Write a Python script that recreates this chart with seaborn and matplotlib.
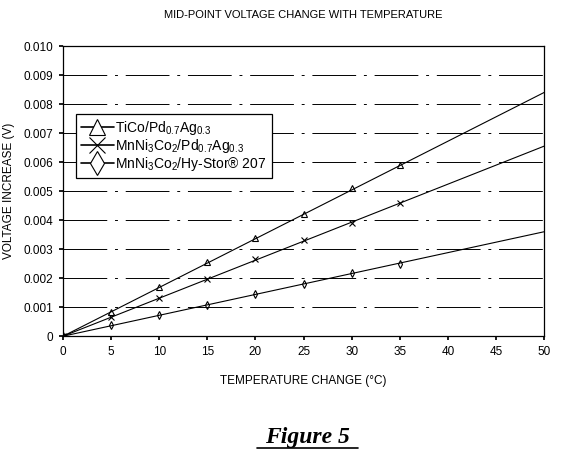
import numpy as np
import matplotlib
matplotlib.use('Agg')
import matplotlib.pyplot as plt
from matplotlib.lines import Line2D
from matplotlib.ticker import FixedLocator, FuncFormatter
import seaborn as sns
import pandas as pd

# marker readings (deg C, V)
temp = [0, 5, 10, 15, 20, 25, 30, 35]
tico_pd = [0, 0.00083, 0.0017, 0.00255, 0.0034, 0.0042, 0.0051, 0.0059]
mnni_pd = [0, 0.00065, 0.0013, 0.00197, 0.00265, 0.0033, 0.0039, 0.0046]
mnni_hy = [0, 0.00038, 0.00072, 0.00107, 0.00145, 0.0018, 0.00217, 0.0025]

# trend lines read at the ends of the plot
fit_temp = [0, 50]
tico_fit = [0, 0.0084]
mnni_pd_fit = [0, 0.00655]
mnni_hy_fit = [0, 0.0036]

labels = ['TiCo/Pd$_{0.7}$Ag$_{0.3}$',
          'MnNi$_3$Co$_2$/Pd$_{0.7}$Ag$_{0.3}$',
          'MnNi$_3$Co$_2$/Hy-Stor\u00ae 207']
markers = ['^', 'x', 'd']

sns.set_theme(style='white')
plt.rcParams['font.family'] = ['Liberation Sans', 'DejaVu Sans']
plt.rcParams['mathtext.fontset'] = 'custom'
plt.rcParams['mathtext.rm'] = 'Liberation Sans'
plt.rcParams['mathtext.it'] = 'Liberation Sans'
for k in ['text.color', 'axes.labelcolor', 'xtick.color', 'ytick.color']:
    plt.rcParams[k] = 'black'

pts = pd.DataFrame({'temp': temp * 3,
                    'v': tico_pd + mnni_pd + mnni_hy,
                    'series': [labels[0]] * 8 + [labels[1]] * 8 + [labels[2]] * 8})
fits = pd.DataFrame({'temp': fit_temp * 3,
                     'v': tico_fit + mnni_pd_fit + mnni_hy_fit,
                     'series': [labels[0]] * 2 + [labels[1]] * 2 + [labels[2]] * 2})

fig = plt.figure(figsize=(5.68, 4.65), dpi=100)
ax = fig.add_axes([0.111, 0.277, 0.847, 0.624])

for y in np.arange(0.001, 0.0101, 0.001):
    ax.axhline(y, color='black', lw=0.7, dashes=(45, 8, 3, 8), zorder=0)

for i, lab in enumerate(labels):
    sns.lineplot(data=fits[fits.series == lab], x='temp', y='v', color='black',
                 lw=0.8, ax=ax, legend=False)
    d = pts[pts.series == lab]
    ax.plot(d['temp'], d['v'], ls='none', marker=markers[i], ms=4,
            mfc='none' if markers[i] != 'x' else 'black', mec='black', mew=0.8)

ax.set_xlim(0, 50)
ax.set_ylim(0, 0.010)
ax.xaxis.set_major_locator(FixedLocator(range(0, 51, 5)))
ax.yaxis.set_major_locator(FixedLocator(np.arange(0, 0.0101, 0.001)))
ax.yaxis.set_major_formatter(FuncFormatter(lambda v, p: '0' if abs(v) < 1e-9 else f'{v:.3f}'))
ax.tick_params(axis='both', labelsize=8.5, length=3, color='black', direction='out',
               left=True, bottom=True, pad=4)
for s in ax.spines.values():
    s.set_color('black')
    s.set_linewidth(0.9)

ax.set_xlabel('TEMPERATURE CHANGE (\u00b0C)', fontsize=8.5, labelpad=12)
ax.set_ylabel('VOLTAGE INCREASE (V)', fontsize=8.5, labelpad=6)
ax.set_title('MID-POINT VOLTAGE CHANGE WITH TEMPERATURE', fontsize=8, pad=20)

handles = [Line2D([], [], color='black', lw=1.2, marker=m, ms=12,
                  mfc='white' if m != 'x' else 'black', mec='black', mew=0.8)
           for m in markers]
leg = ax.legend(handles, labels, loc='upper left', bbox_to_anchor=(0.012, 0.79),
                fontsize=10, frameon=True, fancybox=False, handlelength=2.4,
                handletextpad=0.1, labelspacing=0.0, borderpad=0.35)
leg.get_frame().set_edgecolor('black')
leg.get_frame().set_linewidth(0.9)
leg.get_frame().set_alpha(1)

fig.text(0.542, 0.06, 'Figure 5', family=['Liberation Serif'], fontsize=17,
         fontweight='bold', fontstyle='italic', ha='center', va='center')
fig.add_artist(Line2D([0.452, 0.630], [0.037, 0.037], color='black', lw=1.2))

fig.savefig('out.png', dpi=100, facecolor='white')
